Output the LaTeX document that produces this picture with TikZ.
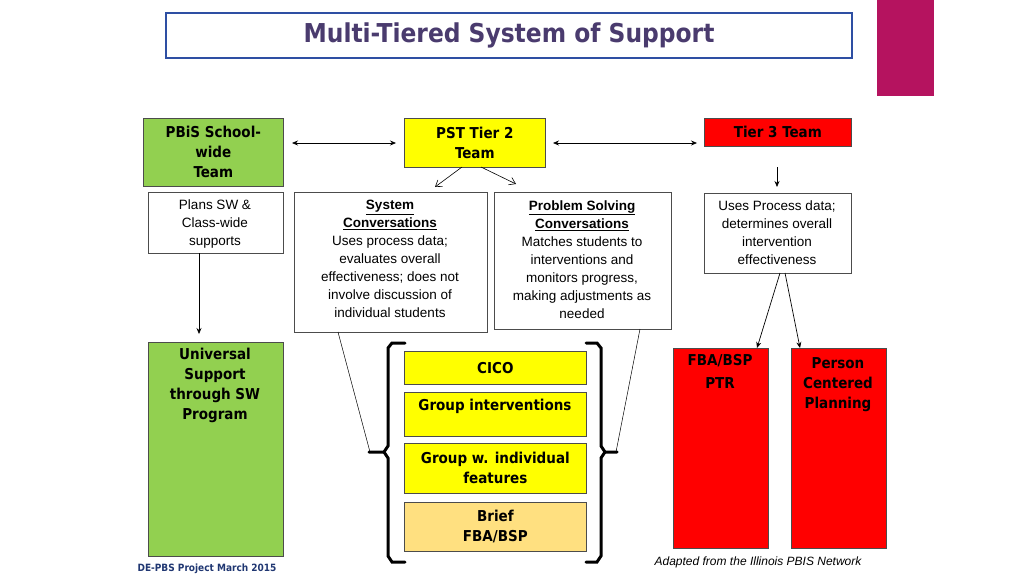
\documentclass[tikz,border=0pt]{standalone}
\usepackage{fontspec}
\setmainfont{Liberation Sans}
\newfontfamily\bfam{DejaVu Sans Condensed}
\usetikzlibrary{arrows.meta}
\definecolor{tgreen}{HTML}{92D050}
\definecolor{tyellow}{HTML}{FFFF00}
\definecolor{tred}{HTML}{FF0000}
\definecolor{tblue}{HTML}{2E4FA3}
\definecolor{ttitle}{HTML}{4A3B6E}
\definecolor{tmag}{HTML}{B5135F}
\definecolor{tbrief}{HTML}{FFE080}
\begin{document}
\begin{tikzpicture}[x=1pt,y=-1pt,
 box/.style={draw=black!70,line width=0.7pt,anchor=north west,inner sep=0pt},
 hd/.style={font=\bfam\bfseries\fontsize{15}{20}\selectfont,align=center},
 bd/.style={font=\fontsize{13.5}{18}\selectfont,align=center},
 arr/.style={-{Stealth[length=6pt,width=5pt]},line width=0.7pt},
 barr/.style={{Stealth[length=6pt,width=5pt]}-{Stealth[length=6pt,width=5pt]},line width=0.7pt},
 oarr/.style={-{Straight Barb[length=6pt,width=8pt]},line width=0.6pt},
 thin/.style={line width=0.5pt},
 br/.style={line width=3pt,line cap=round}]
\useasboundingbox (0,0) rectangle (1024,576);
% title
\node[draw=tblue,line width=2pt,minimum width=686,minimum height=45,anchor=north west,inner sep=0pt,text=ttitle,font=\bfam\bfseries\fontsize{26}{30}\selectfont] (title) at (165,12) {Multi-Tiered System of Support};
\fill[tmag] (877,0) rectangle (934,96);
% top row
\node[box,fill=tgreen,minimum width=140,minimum height=68] (pbis) at (143,118) {};
\node[hd] at (pbis.center) {PBiS School-\\wide\\Team};
\node[box,fill=tyellow,minimum width=141,minimum height=49] (pst) at (404,118) {};
\node[hd] at (pst.center) {PST Tier 2\\Team};
\node[box,fill=tred,minimum width=147,minimum height=28] (t3) at (704,118) {};
\node[hd] at (t3.center) {Tier 3 Team};
\coordinate (a1) at (292,143); \coordinate (a2) at (396,143);
\coordinate (a3) at (553,143); \coordinate (a4) at (697,143);
\draw[barr] (a1) -- (a2);
\draw[barr] (a3) -- (a4);
% second row
\node[box,minimum width=135,minimum height=61] (plans) at (148,192) {};
\node[bd,anchor=north] at (215,196) {Plans SW \&\\Class-wide\\supports};
\node[box,minimum width=193,minimum height=140] (sys) at (294,192) {};
\node[bd,anchor=north] at (390,197) {\textbf{\underline{System}}\\\textbf{\underline{Conversations}}\\Uses process data;\\evaluates overall\\effectiveness; does not\\involve discussion of\\individual students};
\node[box,minimum width=177,minimum height=137] (prob) at (494,192) {};
\node[bd,anchor=north] at (582,197) {\textbf{\underline{Problem Solving}}\\\textbf{\underline{Conversations}}\\Matches students to\\interventions and\\monitors progress,\\making adjustments as\\needed};
\node[box,minimum width=147,minimum height=80] (uses) at (704,193) {};
\node[bd,anchor=north] at (777,197) {Uses Process data;\\determines overall\\intervention\\effectiveness};
\coordinate (p1) at (462,167); \coordinate (p2) at (435,187);
\coordinate (p3) at (481,167); \coordinate (p4) at (516,184);
\draw[oarr] (p1) -- (p2);
\draw[oarr] (p3) -- (p4);
\coordinate (t3a) at (777,167); \coordinate (t3b) at (777,187);
\draw[arr] (t3a) -- (t3b);
\coordinate (pl1) at (199,253); \coordinate (pl2) at (199,334);
\draw[arr] (pl1) -- (pl2);
% bottom
\node[box,fill=tgreen,minimum width=135,minimum height=214] (univ) at (148,342) {};
\node[hd,anchor=north] at (215,345) {Universal\\Support\\through SW\\Program};
\node[box,fill=tred,minimum width=95,minimum height=200] (fba) at (673,348) {};
\node[hd,anchor=north] at (720,351) {FBA/BSP\\[3pt]PTR};
\node[box,fill=tred,minimum width=95,minimum height=200] (pcp) at (791,348) {};
\node[hd,anchor=north] at (838,354) {Person\\Centered\\Planning};
\coordinate (u1) at (780,273); \coordinate (u2) at (785,273);
\draw[arr] (u1) -- (fba.north -| 757,0);
\draw[arr] (u2) -- (pcp.north -| 800,0);
% tier2 interventions
\node[box,fill=tyellow,minimum width=182,minimum height=33,hd] (cico) at (404,351) {CICO};
\node[box,fill=tyellow,minimum width=182,minimum height=44] (grp) at (404,392) {};
\node[hd,anchor=north] at (495,396) {Group interventions};
\node[box,fill=tyellow,minimum width=182,minimum height=50,hd] (grpw) at (404,443) {Group w. individual\\features};
\node[box,fill=tbrief,minimum width=182,minimum height=49,hd] (brief) at (404,502) {Brief\\FBA/BSP};
% brackets
\draw[br] (405,343) -- (392,343) -- (388,348) -- (388,446) -- (384,452) -- (369,452);
\draw[br] (384,452) -- (388,458) -- (388,556) -- (392,562) -- (405,562);
\draw[br] (586,343) -- (597,343) -- (601,348) -- (601,446) -- (605,452) -- (617,452);
\draw[br] (605,452) -- (601,458) -- (601,556) -- (597,562) -- (586,562);
\coordinate (s1) at (338,332); \coordinate (s2) at (370,452);
\coordinate (q1) at (640,329); \coordinate (q2) at (616,452);
\draw[thin] (s1) -- (s2);
\draw[thin] (q1) -- (q2);
% footers
\node[font=\bfam\bfseries\fontsize{10}{12}\selectfont,text=tblue!70!black] (foot) at (207,569) {DE-PBS Project March 2015};
\node[font=\itshape\fontsize{12}{14}\selectfont] (adapt) at (758,562) {Adapted from the Illinois PBIS Network};
\end{tikzpicture}
\end{document}
